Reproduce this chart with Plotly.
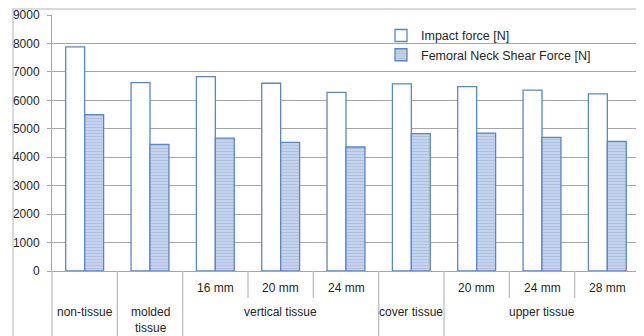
import plotly.graph_objects as go

groups = ["non-tissue", "molded<br>tissue", "vertical tissue", "vertical tissue", "vertical tissue",
          "cover tissue", "upper tissue", "upper tissue", "upper tissue"]
subs = ["", "", "16 mm", "20 mm", "24 mm", "", "20 mm", "24 mm", "28 mm"]
impact = [7880, 6620, 6830, 6600, 6280, 6580, 6480, 6360, 6230]
shear = [5500, 4450, 4670, 4520, 4360, 4830, 4850, 4700, 4560]

cats = [(g.replace("<br>", " ") + " " + s).strip() for g, s in zip(groups, subs)]

# page body has an 8px margin, so the figure is sized to fit the window
W, H = 636, 328
ML, MR, MT, MB = 44, 4, 7, 65
PW, PH = W - ML - MR, H - MT - MB

edge = "#5B86C5"
txt = "#262626"
fig = go.Figure()
fig.add_trace(go.Bar(x=cats, y=impact, name="Impact force [N]",
                     marker=dict(color="white", line=dict(color=edge, width=1.3))))
fig.add_trace(go.Bar(x=cats, y=shear, name="Femoral Neck Shear Force [N]",
                     marker=dict(color="#C9D8EC", line=dict(color=edge, width=1.3),
                                 pattern=dict(shape="-", fgcolor="#88A7D6", bgcolor="#D0DDF0",
                                              size=3, solidity=0.55))))

annotations = []
shapes = []
for i, s in enumerate(subs):
    if s:
        annotations.append(dict(x=i, y=0, xref="x", yref="paper", text=s, showarrow=False,
                                yshift=-17, yanchor="middle", font=dict(size=12, color=txt)))
spans = []
start = 0
for i in range(1, len(groups) + 1):
    if i == len(groups) or groups[i] != groups[start]:
        spans.append((groups[start], start, i - 1))
        start = i
for g, a, b in spans:
    annotations.append(dict(x=(a + b) / 2, y=0, xref="x", yref="paper", text=g, showarrow=False,
                            yshift=-33, yanchor="top", borderpad=0, font=dict(size=12, color=txt)))
for i in range(1, len(groups)):
    full = groups[i] != groups[i - 1]
    shapes.append(dict(type="line", xref="x", yref="paper", x0=i - 0.5, x1=i - 0.5,
                       y0=0, y1=-(MB if full else 27) / PH,
                       line=dict(color="#BFBFBF", width=1.3)))
shapes.append(dict(type="line", xref="paper", yref="paper", x0=0, x1=0, y0=0, y1=-MB / PH,
                   line=dict(color="#BFBFBF", width=1.3)))
# outer chart border
shapes.append(dict(type="rect", xref="paper", yref="paper",
                   x0=(5 - ML) / PW, x1=(632 - ML) / PW, y0=-(MB + 10) / PH, y1=1 + (MT - 1) / PH,
                   line=dict(color="#D9D9D9", width=2), layer="below"))

fig.update_layout(
    width=W, height=H,
    margin=dict(l=ML, r=MR, t=MT, b=MB, autoexpand=False),
    paper_bgcolor="white", plot_bgcolor="white",
    font=dict(family="Liberation Sans", size=12, color=txt),
    barmode="group", bargap=0.42, bargroupgap=0,
    showlegend=True,
    legend=dict(x=(373 - ML) / PW, y=0.977, xanchor="left", yanchor="top", bgcolor="rgba(0,0,0,0)",
                font=dict(size=12.5, color=txt), tracegroupgap=0),
    yaxis=dict(range=[0, 9000], dtick=1000, showgrid=True, gridcolor="#A6A6A6", gridwidth=1,
               showline=True, linecolor="#A6A6A6", ticks="outside", ticklen=4, tickcolor="#A6A6A6",
               zeroline=False, tickfont=dict(size=12, color=txt), automargin=False,
               ticklabelstandoff=5),
    xaxis=dict(type="category", categoryorder="array", categoryarray=cats, range=[-0.5, len(cats) - 0.5],
               showline=True, linecolor="#A6A6A6", showticklabels=False, ticks="",
               showgrid=False, automargin=False),
    annotations=annotations,
    shapes=shapes,
)
fig.write_html("out.html")
